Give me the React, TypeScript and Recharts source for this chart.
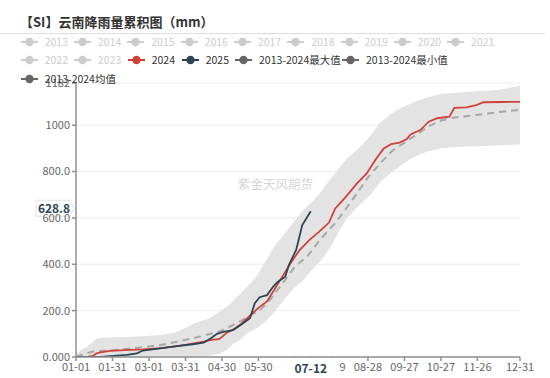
import React from 'react';
import { ComposedChart, Line, Area, XAxis, YAxis, CartesianGrid, ReferenceLine } from 'recharts';

// ---------- data ----------
const titleText = '【SI】云南降雨量累积图（mm）';
const watermarkText = '紫金天风期货';

const xTickDays = [0, 30, 60, 90, 120, 150, 180, 210, 240, 270, 300, 330, 365];
const xTickLabels = ['01-01', '01-31', '03-01', '03-31', '04-30', '05-30', '06-29', '07-29', '08-28', '09-27', '10-27', '11-26', '12-31'];
const yTicks = [0, 200, 400, 600, 800, 1000, 1182];
const yTickLabels = ['0.000', '200.0', '400.0', '600.0', '800.0', '1000', '1182'];

const pointerDay = 193;
const pointerDayLabel = '07-12';
const pointerValue = 628.8;

const bandDays = [0, 4, 9, 17, 25, 40, 50, 55, 60, 69, 70, 80, 83, 90, 97, 100, 110, 118, 124, 129, 131, 135, 138, 140, 146, 149, 152, 155, 158, 162, 168, 173, 178, 180, 184, 187, 190, 194, 198, 201, 205, 208, 210, 214, 216, 220, 223, 228, 230, 235, 236, 242, 243, 250, 258, 266, 275, 277, 283, 288, 292, 300, 310, 315, 320, 330, 335, 345, 350, 355, 365];
const bandMin = [0, 0, 0, 0, 0, 0, 1, 1, 2, 3, 3, 3, 3, 3, 3, 3, 5, 15, 30, 55, 62, 73, 88, 100, 118, 125, 138, 150, 165, 188, 225, 260, 290, 300, 318, 332, 350, 375, 397, 415, 440, 465, 480, 520, 540, 575, 600, 628, 640, 665, 670, 700, 705, 755, 790, 822, 855, 860, 875, 884, 890, 900, 905, 906, 908, 909, 910, 912, 913, 915, 918];
const bandMax = [12, 30, 44, 80, 84, 86, 88, 90, 92, 95, 96, 104, 109, 125, 145, 150, 167, 195, 217, 240, 255, 272, 290, 300, 332, 355, 380, 405, 430, 470, 510, 541, 576, 590, 615, 634, 650, 670, 692, 712, 740, 760, 772, 800, 812, 840, 856, 880, 888, 915, 920, 955, 962, 1010, 1045, 1072, 1092, 1098, 1110, 1118, 1124, 1135, 1139, 1141, 1143, 1146, 1148, 1151, 1154, 1159, 1172];

const meanDays = [0, 8, 15, 30, 55, 70, 83, 102, 118, 124, 137, 146, 151, 160, 173, 180, 190, 200, 214, 222, 231, 240, 250, 260, 270, 280, 290, 300, 310, 330, 350, 365];
const meanValues = [2, 15, 25, 29, 42, 52, 66, 88, 110, 124, 160, 188, 200, 250, 340, 390, 433, 502, 584, 640, 706, 775, 835, 890, 925, 960, 995, 1020, 1032, 1045, 1058, 1066];

const days2024 = [0, 10, 14, 17, 20, 28, 40, 55, 70, 83, 90, 97, 105, 110, 118, 124, 130, 135, 143, 150, 157, 163, 170, 177, 184, 192, 200, 208, 213, 222, 231, 239, 247, 253, 259, 266, 272, 275, 283, 290, 297, 307, 311, 321, 329, 335, 350, 365];
const values2024 = [0, 2, 5, 16, 20, 26, 30, 33, 38, 47, 52, 59, 66, 73, 78, 105, 120, 140, 178, 212, 240, 290, 350, 410, 462, 505, 541, 580, 640, 692, 749, 792, 857, 900, 918, 925, 940, 960, 979, 1015, 1030, 1037, 1075, 1077, 1087, 1099, 1100, 1101];

const days2025 = [0, 20, 28, 42, 50, 55, 69, 83, 96, 105, 110, 116, 121, 129, 136, 143, 147, 151, 157, 162, 166, 172, 175, 181, 186, 193];
const values2025 = [0, 0, 4, 9, 16, 28, 37, 47, 55, 62, 78, 100, 108, 116, 140, 167, 232, 258, 267, 303, 325, 346, 397, 462, 569, 628.8];

const legendRow1 = ['2013', '2014', '2015', '2016', '2017', '2018', '2019', '2020', '2021'];
const legendRow2 = ['2022', '2023', '2024', '2025', '2013-2024最大值', '2013-2024最小值'];
const legendRow3 = ['2013-2024均值'];

// ---------- styles ----------
const RED = '#d0413c';
const NAVY = '#2f4554';
const INACTIVE = '#cccccc';
const DARKGRAY = '#666666';
const FONT = '"Noto Sans CJK SC", "Noto Sans", sans-serif';

const legendColor: Record<string, string> = {
  '2024': RED,
  '2025': NAVY,
  '2013-2024最大值': DARKGRAY,
  '2013-2024最小值': DARKGRAY,
  '2013-2024均值': DARKGRAY,
};

const row1X = [20.7, 74, 127.3, 180.6, 233.9, 287.2, 340.5, 393.8, 447.1];
const row2X = [20.7, 74, 127.7, 181.7, 235, 342];
const row3X = [20.7];
const rowY = [41.7, 60.3, 78.5];

const bandData = bandDays.map((d, i) => ({ d, range: [bandMin[i], bandMax[i]] }));
const meanData = meanDays.map((d, i) => ({ d, v: meanValues[i] }));
const data2024 = days2024.map((d, i) => ({ d, v: values2024[i] }));
const data2025 = days2025.map((d, i) => ({ d, v: values2025[i] }));
const xAxisTicks = [...xTickDays, pointerDay];

function LegendItem({ name, x, y }: { name: string; x: number; y: number }) {
  const c = legendColor[name] || INACTIVE;
  const textColor = legendColor[name] ? '#333' : INACTIVE;
  return (
    <div style={{ position: 'absolute', left: x, top: y - 8, height: 16, display: 'flex', alignItems: 'center', whiteSpace: 'nowrap' }}>
      <svg width={18} height={16} style={{ display: 'block' }}>
        <line x1={0} y1={8} x2={17} y2={8} stroke={c} strokeWidth={2} />
        <circle cx={8.5} cy={8} r={4.2} fill={c} />
      </svg>
      <span style={{ marginLeft: 6, fontSize: 10.5, color: textColor, lineHeight: '16px' }}>{name}</span>
    </div>
  );
}

const XTick = (props: any) => {
  const { x, y, payload } = props;
  const v = payload && payload.value;
  if (v === pointerDay) {
    return (
      <g>
        <rect x={x - 30} y={y - 5} width={58} height={20} fill="#ffffff" />
        <text x={x} y={y + 10} textAnchor="middle" fontSize={12} fontWeight="bold" fill={NAVY} fontFamily={FONT}>
          {pointerDayLabel}
        </text>
      </g>
    );
  }
  const idx = xTickDays.indexOf(v);
  return (
    <text x={x} y={y} dy="0.71em" textAnchor="middle" fontSize={11} fill="#666" fontFamily={FONT}>
      {idx >= 0 ? xTickLabels[idx] : ''}
    </text>
  );
};

const YPointerLabel = (props: any) => {
  const vb = props.viewBox || {};
  const rx = vb.x - 3;
  const cy = vb.y - 3;
  const path = `M ${rx - 37} ${cy - 8} L ${rx - 3} ${cy - 8} L ${rx + 1} ${cy} L ${rx - 3} ${cy + 8} L ${rx - 37} ${cy + 8} Z`;
  return (
    <g>
      <path d={path} fill="#ffffff" stroke="#e2e2e2" strokeWidth={1} />
      <text x={rx - 19} y={cy + 4.5} textAnchor="middle" fontSize={12} fontWeight="bold" fill={NAVY} fontFamily={FONT}>
        {String(pointerValue)}
      </text>
    </g>
  );
};

export default function App() {
  return (
    <div style={{ position: 'absolute', left: 0, top: 0, width: 550, height: 378, background: '#fff', fontFamily: FONT, overflow: 'hidden' }}>
      <div style={{ position: 'absolute', left: 20, top: 13, fontSize: 13, fontWeight: 'bold', color: '#333', lineHeight: '18px', whiteSpace: 'nowrap' }}>
        {titleText}
      </div>
      <div style={{ position: 'absolute', left: 0, top: 32.5, width: 545, height: 1.5, background: '#dddddd' }} />
      <div style={{ position: 'absolute', left: 0, top: 0 }}>
        <ComposedChart width={550} height={378} margin={{ top: 83, right: 30, bottom: 0, left: 0 }} style={{ fontFamily: FONT }}>
          <CartesianGrid vertical={false} stroke="#ececec" strokeWidth={1} />
          <XAxis
            type="number"
            dataKey="d"
            domain={[0, 365]}
            ticks={xAxisTicks}
            interval={0}
            height={21}
            stroke="#8f8f8f"
            strokeWidth={1.5}
            tickSize={4}
            tickMargin={2}
            tick={<XTick />}
            allowDataOverflow
          />
          <YAxis
            type="number"
            domain={[0, 1182]}
            ticks={yTicks}
            interval={0}
            tickFormatter={(v: number) => yTickLabels[yTicks.indexOf(v)]}
            width={76}
            stroke="#8f8f8f"
            strokeWidth={1.5}
            tickSize={4}
            tickMargin={2}
            tick={{ fill: '#666', fontSize: 11 }}
            allowDataOverflow
          />
          <Area data={bandData} dataKey="range" type="linear" stroke="none" fill="#e3e3e3" fillOpacity={1} isAnimationActive={false} dot={false} activeDot={false} />
          <Line data={meanData} dataKey="v" type="linear" stroke="#a8a8a8" strokeWidth={2} strokeDasharray="7 5" dot={false} activeDot={false} isAnimationActive={false} />
          <Line data={data2024} dataKey="v" type="linear" stroke={RED} strokeWidth={1.8} dot={false} activeDot={false} isAnimationActive={false} />
          <Line data={data2025} dataKey="v" type="linear" stroke={NAVY} strokeWidth={1.8} dot={false} activeDot={false} isAnimationActive={false} />
          <ReferenceLine y={pointerValue} stroke="#000" strokeOpacity={0} label={<YPointerLabel />} />
        </ComposedChart>
      </div>
      <div style={{ position: 'absolute', left: 238, top: 175, fontSize: 12.5, color: '#d6d6d6', whiteSpace: 'nowrap', lineHeight: '18px' }}>
        {watermarkText}
      </div>
      {legendRow1.map((n, i) => <LegendItem key={n} name={n} x={row1X[i]} y={rowY[0]} />)}
      {legendRow2.map((n, i) => <LegendItem key={n} name={n} x={row2X[i]} y={rowY[1]} />)}
      {legendRow3.map((n, i) => <LegendItem key={n} name={n} x={row3X[i]} y={rowY[2]} />)}
    </div>
  );
}
